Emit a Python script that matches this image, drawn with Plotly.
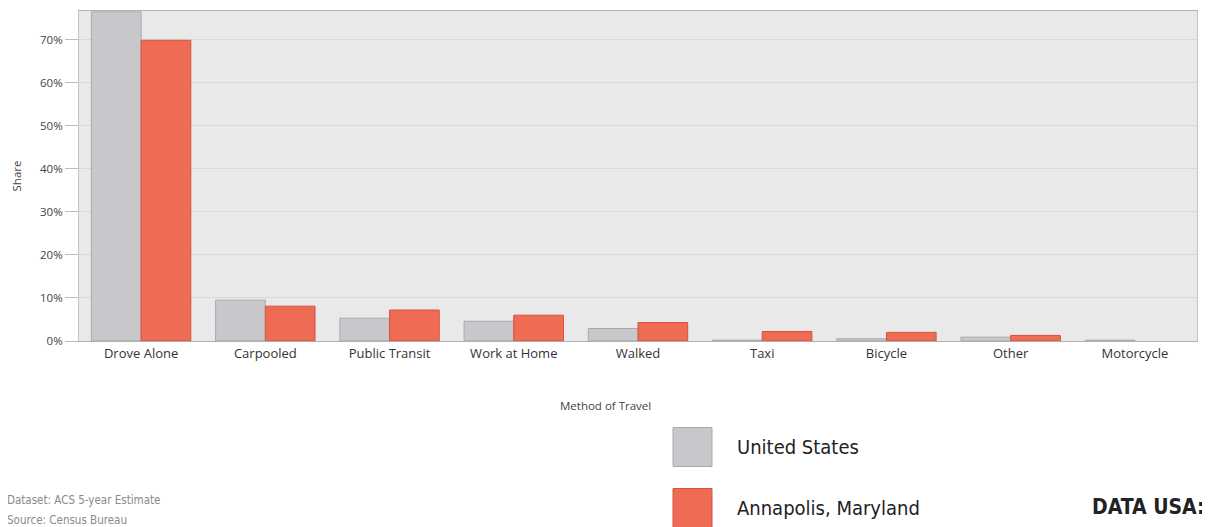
import plotly.graph_objects as go

categories = ["Drove Alone", "Carpooled", "Public Transit", "Work at Home", "Walked",
              "Taxi", "Bicycle", "Other", "Motorcycle"]
us_share = [76.5, 9.5, 5.3, 4.6, 2.9, 0.2, 0.5, 0.9, 0.2]
annapolis_share = [69.9, 8.1, 7.2, 6.0, 4.3, 2.2, 2.0, 1.3, 0.0]
series_names = ["United States", "Annapolis, Maryland"]
y_ticks = [0, 10, 20, 30, 40, 50, 60, 70]
y_tick_labels = ["0%", "10%", "20%", "30%", "40%", "50%", "60%", "70%"]

US_COLOR = "#c8c8cc"
US_LINE = "#a9a9ad"
ANN_COLOR = "#ef6b54"
ANN_LINE = "#d2543e"
FONT = "Open Sans"
NARROW = "DejaVu Sans Condensed, Liberation Sans Narrow, Open Sans"

# plot area in page pixels: x 79..1197, y 11..341 (page is offset by 8px body margin)
PX0, PX1, PY0, PY1 = 79, 1197, 11, 341
PW, PH = PX1 - PX0, PY1 - PY0


def px(x):
    return (x - PX0) / PW


def py(y):
    return (PY1 - y) / PH


def outline_widths(values):
    return [1 if v > 0 else 0 for v in values]


fig = go.Figure()
fig.add_trace(go.Bar(x=categories, y=us_share, name=series_names[0],
                     marker=dict(color=US_COLOR,
                                 line=dict(color=US_LINE, width=outline_widths(us_share)))))
fig.add_trace(go.Bar(x=categories, y=annapolis_share, name=series_names[1],
                     marker=dict(color=ANN_COLOR,
                                 line=dict(color=ANN_LINE, width=outline_widths(annapolis_share)))))

fig.update_layout(
    width=1202, height=519,
    margin=dict(l=71, r=13, t=3, b=186),
    paper_bgcolor="white",
    plot_bgcolor="#e9e9e9",
    barmode="group", bargap=0.2, bargroupgap=0,
    showlegend=False,
    font=dict(family=FONT, color="#444444"),
)
fig.update_yaxes(
    range=[0, 76.7], tickvals=y_ticks, ticktext=y_tick_labels,
    tickfont=dict(size=11.5, color="#444444"),
    gridcolor="#d9d9d9", gridwidth=1,
    ticks="outside", ticklen=13, tickcolor="#bdbdbd",
    showline=True, linecolor="#c4c4c4", linewidth=1, mirror=True,
    zeroline=False,
    title=dict(text="Share", font=dict(size=11.5, color="#444444"), standoff=16),
)
fig.update_xaxes(
    tickfont=dict(size=13, color="#333333"),
    showline=True, linecolor="#b0b0b0", linewidth=1, mirror=True,
    ticks="", showgrid=False,
)

fig.add_annotation(text="Method of Travel", xref="paper", yref="paper",
                   x=px(605), y=py(405), xanchor="center", yanchor="middle",
                   showarrow=False, font=dict(size=11.5, color="#444444"))

# legend swatches and labels
legend_rows = [(series_names[0], US_COLOR, US_LINE, 447), (series_names[1], ANN_COLOR, ANN_LINE, 508)]
for name, col, lcol, yc in legend_rows:
    fig.add_shape(type="rect", xref="paper", yref="paper",
                  x0=px(673), x1=px(712), y0=py(yc + 19.5), y1=py(yc - 19.5),
                  fillcolor=col, line=dict(color=lcol, width=1))
    fig.add_annotation(text=name, xref="paper", yref="paper",
                       x=px(735), y=py(yc), xanchor="left", yanchor="middle",
                       showarrow=False, font=dict(family=NARROW, size=20, color="#222222"))

fig.add_annotation(text="Dataset: ACS 5-year Estimate", xref="paper", yref="paper",
                   x=px(5), y=py(500), xanchor="left", yanchor="middle",
                   showarrow=False, font=dict(family=NARROW, size=11.5, color="#8a8a8a"))
fig.add_annotation(text="Source: Census Bureau", xref="paper", yref="paper",
                   x=px(5), y=py(520), xanchor="left", yanchor="middle",
                   showarrow=False, font=dict(family=NARROW, size=11.5, color="#8a8a8a"))
fig.add_annotation(text="<b>DATA USA:</b>", xref="paper", yref="paper",
                   x=px(1207), y=py(507), xanchor="right", yanchor="middle",
                   showarrow=False, font=dict(family=NARROW, size=21, color="#222222"))

fig.write_html("out.html")
